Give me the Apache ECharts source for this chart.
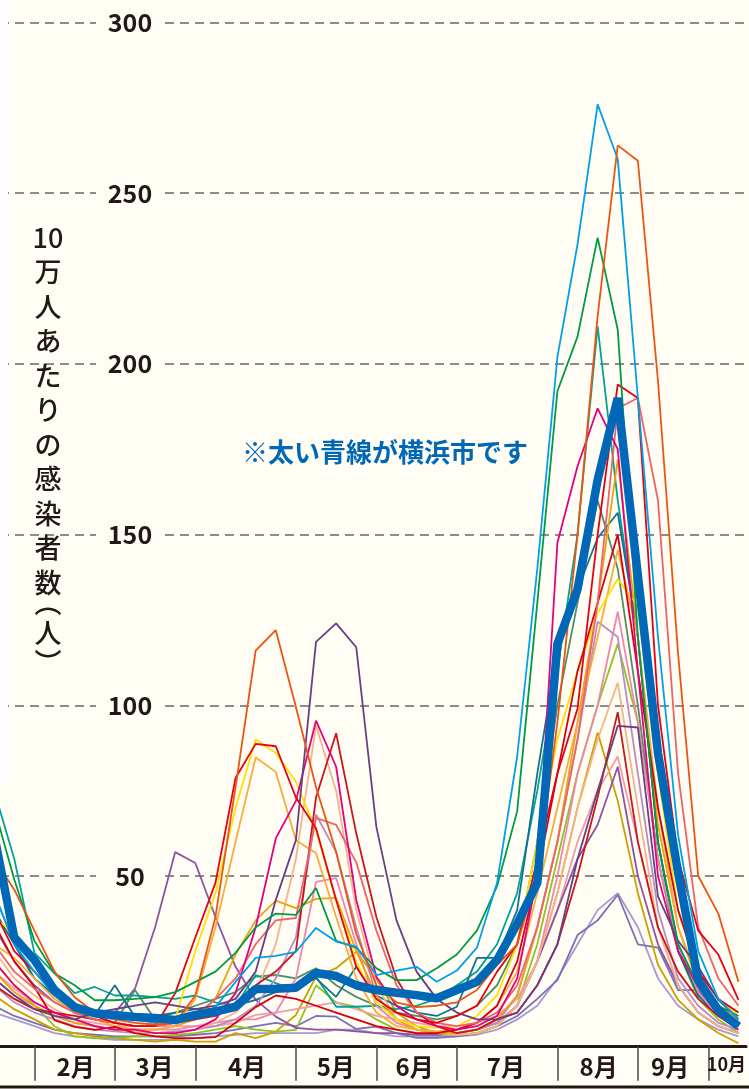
<!DOCTYPE html>
<html>
<head>
<meta charset="utf-8">
<script src="https://cdn.jsdelivr.net/npm/echarts@6.0.0/dist/echarts.min.js"></script>
<style>
html, body { margin: 0; padding: 0; background: #fffdf4; }
#chart { width: 749px; height: 1089px; }
</style>
</head>
<body>
<div id="chart"></div>
<script>
// week index 0 = first week of April-ish; 38 weekly points, -13 .. 24
const weeks = [-13,-12,-11,-10,-9,-8,-7,-6,-5,-4,-3,-2,-1,0,1,2,3,4,5,6,7,8,9,10,11,12,13,14,15,16,17,18,19,20,21,22,23,24];

const monthBounds = [-11, -7, -3, 2, 6, 10, 15, 19, 22.5];
const monthCenters = [-8.95, -5.03, -0.43, 3.98, 7.9, 12.44, 17.05, 20.6, 23.4];
const monthLabels = ['2月', '3月', '4月', '5月', '6月', '7月', '8月', '9月', '10月'];
const yTicks = [50, 100, 150, 200, 250, 300];

// 横浜市
const yokohama = [62,32,25.4,16.6,11.6,9.8,9.3,8.7,8.4,7.8,9.3,10.3,11.7,16.9,17,17.3,21.6,20.7,18,16.6,15.8,15.1,14.2,16.6,19,25.4,36,48,118,134,166,190,138,86,51,19.5,10.7,6];

// other cities
const sky = [45,30,22,15,11,9,8,8,7,8,9,11.6,19,26,26.6,27.8,34.8,30.8,29.3,21,22.3,23.4,19,22.3,29,48,85,140,202,235,276,260,190,120,62,28,14,8];
const green = [70,49,31,21.5,18,13.6,13.6,14,14.5,16,19,22,27.5,35,39,38.6,46.5,31,29,23,19.5,19.5,23,27,34,47,69,130,192,208,237,210,120,60,30,18,12,9];
const vermilion = [55,46,34,22,14.5,10,8,7,6.5,7,15,38,76,116,122,99.5,76,57,33,18,13,11.6,12,13,16.6,24,30,50,95,150,214,264,259.5,195,115,50,39,19];
const red = [40,28,22,16,11,9,7,6,6,15.7,32,48,78.7,88.7,88,73,64,43,23.5,14,10,8,7,9,12,22,30,55,80,99,150,194,190,100,55,34,27,13.7];
const yellow = [38,33,26,17,11,9,7,6,6.5,8,28,45,70,90,86,77.6,63.4,43,25,13,8,6,5.5,6,9,15,30,60,90,110,127,137,129,80,40,22,14,9];
const lightOrange = [30,26,20,14,10,8,6,5,5,6,14,35,60,84.7,80.5,60.5,56.7,38,20,10,6,5,4.5,5,7,12,22,45,70,95,120,145.5,120,70,35,20,12,8];
const darkPurple = [20,15,11,9,8,10,11,12,13,12,11,12,14,22,43,60.5,118.6,124,117,64.4,37,22,14,10,8,8,10,18,30,55,75,94,93.5,44,31,23.4,13.7,8];
const magenta = [25,18,13,10,8,6,5,5,4,4,5,8,15.7,35,61,72,95.5,82,43,20.5,12,8,6,5,6,9,20,50,147.6,170,187,175,110,50,28,17.5,9.8,6];
const crimson = [18,14,11,10,9,8,7,6,6,7,8,9,12,18,22,28,73,91.8,62.5,38,20,10,6,4,5,8,10,18,30,50,73,98,60,35,22,14,9,5];
const peach = [28,20,15,11,8,6,5,4.5,4,4,5,7,10,16,30,55,94,75,40,18,8,5,4,3.5,4,6,12,25,45,70,90,106.6,70,35,18,10,6,4];
const coral = [30,22,17,13,10,8,7,6,6,7,9,14,20,30,37,37.7,67,65,54,34,18,10,7,6,7,10,18,35,60,90,130,187,190,160,80,35,20,12];
const teal = [75,55,27.5,21.5,15.7,17.5,15,15,14.5,14,15,13,12,21,18.6,16.6,20.5,11.7,11.7,12,11,12,14,18,22,30,45,75,110,150,211,160,120,60,30,16,10,7];
const darkTeal = [40,30,20,15,12,9.3,18,8.7,9,10,11,11,12,13.7,16,18,20,14.6,23.4,15,12,10,9,11.7,26,26,40,80,116,134,149,156.4,120,60,28,15,9,6];
const purple = [35,25,18,13,10,9,10,17,35,57,53.8,38,23.4,13.7,8.8,5.5,5,5,4.5,4,4,3.5,3.5,4,5,7,12,25,40,55,65,82,50,30,18,10,6,4];
const purpleBlue = [12,9,7,5,4,3.5,3,3,3,3,3.5,4,5,6,7,6,9,8.8,5.2,5.9,4,2.6,2.6,3,4,6,9,14,19.5,32.7,37,44.5,30,29,16.6,16.6,10,6];
const darkGold = [15,11,8,5,4,3,2.5,2,1.5,2,1.5,1.5,4,2.5,4.4,9.3,20.5,23,27.8,20,10,6,4,3.5,4,6,12,25,45,70,92,72,45,24,13.7,8,4,1];
const goldB = [22,16,12,9,7,6,5,5,5,6,8,14,27,37,42.8,40.6,43.3,43.6,28,15,8,5,4,4,5,8,15,35,60,95,130,172,120,65,35,18,11,7];
const yellowGreen = [25,18,12,6,3,2.5,2.5,3,3,3.5,4,5,6,5,4.4,4.9,18,13,11.7,8,5,4,3.5,3.5,4,6,12,30,55,80,100,118,95,55,28,14,8,4];
const pink = [20,15,12,9,7,6,5,5,5,5,6,7,8,8,10,20,48.3,49.4,30,12,7,5,4,4,5,7,12,25,50,80,100,127.4,95,55,30,16,9,6];
const lightPurple = [18,13,10,8,6,5,4.5,4,4,4.5,5,6,8,12,20,32,68,57,35,15,8,5,4,4,5,7,15,35,60,90,124.5,120,80,40,20,12,7,5];
const grayGreen = [45,30,20,15,10,8,7,16.6,8,10,12,14,16,20.5,21,20,23,18,14.6,12,10,9,8,9,12,18,30,60,100,130,160,140,100,55,28,15,9,6];
const pink2 = [22,17,13,10,8,7,6,6,6,6,6,6,7,9.3,10,11,12,13,11,9,8,7,6,6,7,9,14,25,40,60,75,85,60,35,18,10,6,4];
const red2 = [36,25,17.5,7.8,5.8,4.9,5.8,4,3,2.5,2.5,2.8,7,11.6,15,14,12,10,8,6,5,4,4,5,7,12,25,50,80,110,130,150,110,70,40,22,14,10];
const lavender = [10,8,6,4,3,2.5,2,2,2,2,2.5,3,3.5,4,4,4,4,5,5,4,3,3,3,3,3.5,5,8,12,20,30,40,45,35,20,12,8,5,3];

const cities = [
  ['lavender', lavender, '#a59aca'],
  ['purpleBlue', purpleBlue, '#7a70b5'],
  ['darkGold', darkGold, '#c9a000'],
  ['yellowGreen', yellowGreen, '#8fc31f'],
  ['pink2', pink2, '#f19ca7'],
  ['purple', purple, '#9053a0'],
  ['grayGreen', grayGreen, '#4f8e66'],
  ['teal', teal, '#00a497'],
  ['darkTeal', darkTeal, '#0f7290'],
  ['pink', pink, '#ef86b0'],
  ['lightPurple', lightPurple, '#b98bc1'],
  ['peach', peach, '#f5b38c'],
  ['goldB', goldB, '#eea20c'],
  ['lightOrange', lightOrange, '#f6ad3c'],
  ['yellow', yellow, '#ffe100'],
  ['crimson', crimson, '#c9171e'],
  ['red2', red2, '#d7000f'],
  ['coral', coral, '#ec6468'],
  ['magenta', magenta, '#e4007f'],
  ['darkPurple', darkPurple, '#674083'],
  ['red', red, '#e60012'],
  ['green', green, '#009944'],
  ['sky', sky, '#00a0e9'],
  ['vermilion', vermilion, '#ea5514']
];

const pairs = arr => arr.map((v, i) => [weeks[i], v]);

const series = cities.map(([name, data, color]) => ({
  name, type: 'line', data: pairs(data), symbol: 'none',
  lineStyle: { width: 1.8, color }, z: 3
}));
series.push({
  name: '横浜市', type: 'line', data: pairs(yokohama), symbol: 'none',
  lineStyle: { width: 8.5, color: '#0068b7' }, z: 5
});

const chart = echarts.init(document.getElementById('chart'));
chart.setOption({
  animation: false,
  backgroundColor: '#fffdf4',
  grid: { left: 0, right: 0, top: 22.5, bottom: 42.3 },
  xAxis: {
    type: 'value', min: -12.71, max: 24.38,
    axisLine: { show: true, lineStyle: { color: '#231815', width: 3 } },
    axisTick: { show: true, customValues: monthBounds, length: 34, lineStyle: { color: '#4a4a4a', width: 1.5 } },
    axisLabel: {
      customValues: monthCenters, margin: 8,
      fontSize: 24, fontWeight: 'bold', color: '#231815', fontFamily: 'Noto Sans CJK JP',
      formatter: v => {
        const i = monthCenters.indexOf(v);
        return i === monthLabels.length - 1 ? '{s|' + monthLabels[i] + '}' : monthLabels[i];
      },
      rich: { s: { fontSize: 18, fontWeight: 'bold', color: '#231815', fontFamily: 'Noto Sans CJK JP' } }
    },
    splitLine: { show: false }
  },
  yAxis: {
    type: 'value', min: 0, max: 300, interval: 50,
    axisLine: { show: false }, axisTick: { show: false },
    splitLine: { show: true, lineStyle: { color: '#8c8c8c', width: 2, type: [9, 6] } },
    axisLabel: {
      customValues: yTicks, inside: true, margin: 130, align: 'center',
      fontSize: 25, fontWeight: 'bold', color: '#231815', fontFamily: 'Noto Sans CJK JP',
      backgroundColor: '#fffdf4', width: 56, padding: [0, 6]
    }
  },
  graphic: [
    { type: 'rect', shape: { x: 0, y: 0, width: 8, height: 783 }, style: { fill: '#ffffff' }, z: 1 },
    { type: 'rect', shape: { x: 0, y: 1085.5, width: 749, height: 3 }, style: { fill: '#231815' }, z: 10 },
    {
      type: 'text', x: 48, y: 220, z: 10,
      style: {
        text: ['10', '万', '人', 'あ', 'た', 'り', 'の', '感', '染', '者', '数'].join('\n'),
        fill: '#231815', fontSize: 27, fontWeight: 500, lineHeight: 34.5, align: 'center',
        fontFamily: 'Noto Sans CJK JP'
      }
    },
    {
      type: 'text', x: 48, y: 588, z: 10,
      style: {
        text: ['︵', '人', '︶'].join('\n'),
        fill: '#231815', fontSize: 27, fontWeight: 500, lineHeight: 30, align: 'center',
        fontFamily: 'Noto Sans CJK JP'
      }
    },
    {
      type: 'text', x: 242, y: 452, z: 10,
      style: {
        text: '※太い青線が横浜市です', fill: '#0068b7', fontSize: 26, fontWeight: 'bold',
        verticalAlign: 'middle', fontFamily: 'Noto Sans CJK JP'
      }
    }
  ],
  series
});
</script>
</body>
</html>
